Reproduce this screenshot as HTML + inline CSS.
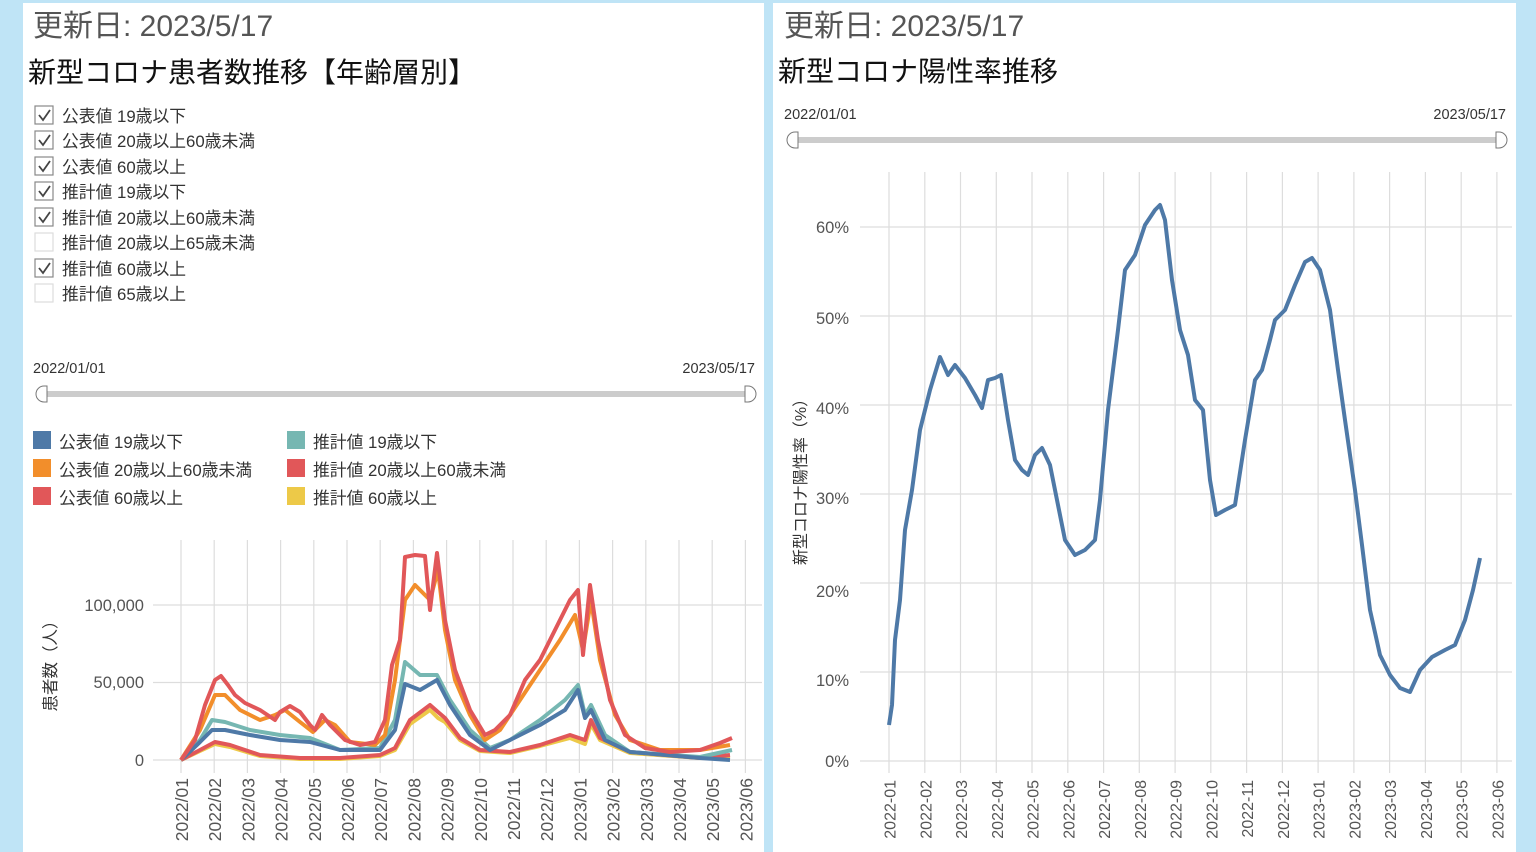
<!DOCTYPE html>
<html><head><meta charset="utf-8"><style>
html,body{margin:0;padding:0;width:1536px;height:852px;overflow:hidden;background:#bfe4f6;}
svg{display:block;font-family:"Liberation Sans","Noto Sans CJK JP",sans-serif;}
</style></head><body>
<svg width="1536" height="852" xmlns="http://www.w3.org/2000/svg">
<rect x="23" y="3" width="741" height="849" fill="#fff"/>
<rect x="773" y="3" width="743" height="849" fill="#fff"/>

<!-- LEFT -->
<text x="33" y="36" font-size="30" fill="#555">更新日: 2023/5/17</text>
<text x="28" y="82" font-size="28" fill="#111">新型コロナ患者数推移【年齢層別】</text>
<g font-size="16.8" fill="#333">
<g stroke="#888" stroke-width="1.2" fill="#fff">
<rect x="35" y="106" width="18" height="18"/><rect x="35" y="131" width="18" height="18"/><rect x="35" y="157" width="18" height="18"/><rect x="35" y="182" width="18" height="18"/><rect x="35" y="208" width="18" height="18"/><rect x="35" y="233" width="18" height="18" stroke="#ddd"/><rect x="35" y="259" width="18" height="18"/><rect x="35" y="284" width="18" height="18" stroke="#ddd"/>
</g>
<g stroke="#444" stroke-width="1.8" fill="none">
<path d="M39 115l4 5l7-10"/><path d="M39 140l4 5l7-10"/><path d="M39 166l4 5l7-10"/><path d="M39 191l4 5l7-10"/><path d="M39 217l4 5l7-10"/><path d="M39 268l4 5l7-10"/>
</g>
<text x="62" y="122">公表値 19歳以下</text>
<text x="62" y="147">公表値 20歳以上60歳未満</text>
<text x="62" y="173">公表値 60歳以上</text>
<text x="62" y="198">推計値 19歳以下</text>
<text x="62" y="224">推計値 20歳以上60歳未満</text>
<text x="62" y="249">推計値 20歳以上65歳未満</text>
<text x="62" y="275">推計値 60歳以上</text>
<text x="62" y="300">推計値 65歳以上</text>
</g>
<text x="33" y="373" font-size="14.5" fill="#333">2022/01/01</text>
<text x="755" y="373" font-size="14.5" fill="#333" text-anchor="end">2023/05/17</text>
<rect x="40" y="391" width="712" height="6" fill="#ccc"/>
<path d="M47 386h-3a8 8 0 0 0 0 16h3z" fill="#fff" stroke="#777"/>
<path d="M745 386h3a8 8 0 0 1 0 16h-3z" fill="#fff" stroke="#777"/>
<g font-size="16.8" fill="#333">
<rect x="33" y="431" width="18" height="18" fill="#4e79a7"/><text x="59" y="448">公表値 19歳以下</text>
<rect x="33" y="459" width="18" height="18" fill="#f28e2b"/><text x="59" y="476">公表値 20歳以上60歳未満</text>
<rect x="33" y="487" width="18" height="18" fill="#e15759"/><text x="59" y="504">公表値 60歳以上</text>
<rect x="287" y="431" width="18" height="18" fill="#76b7b2"/><text x="313" y="448">推計値 19歳以下</text>
<rect x="287" y="459" width="18" height="18" fill="#e15759"/><text x="313" y="476">推計値 20歳以上60歳未満</text>
<rect x="287" y="487" width="18" height="18" fill="#edc948"/><text x="313" y="504">推計値 60歳以上</text>
</g>
<g stroke="#ddd" stroke-width="1.2">
<path d="M153 760H762M153 682.5H762M153 605H762"/>
<path d="M181 540V773M214.2 540V773M247.4 540V773M280.6 540V773M313.8 540V773M347 540V773M380.2 540V773M413.4 540V773M446.6 540V773M479.8 540V773M513 540V773M546.2 540V773M579.4 540V773M612.6 540V773M645.8 540V773M679 540V773M712.2 540V773M745.4 540V773"/>
</g>
<g font-size="16.5" fill="#555" text-anchor="end">
<text x="144" y="766">0</text><text x="144" y="688">50,000</text><text x="144" y="611">100,000</text>
</g>
<text transform="translate(56 662) rotate(-90)" font-size="16.5" fill="#333" text-anchor="middle">患者数（人）</text>
<g font-size="17.5" fill="#555" text-anchor="end">
<text transform="translate(188 778) rotate(-90)">2022/01</text>
<text transform="translate(221.2 778) rotate(-90)">2022/02</text>
<text transform="translate(254.4 778) rotate(-90)">2022/03</text>
<text transform="translate(287.6 778) rotate(-90)">2022/04</text>
<text transform="translate(320.8 778) rotate(-90)">2022/05</text>
<text transform="translate(354 778) rotate(-90)">2022/06</text>
<text transform="translate(387.2 778) rotate(-90)">2022/07</text>
<text transform="translate(420.4 778) rotate(-90)">2022/08</text>
<text transform="translate(453.6 778) rotate(-90)">2022/09</text>
<text transform="translate(486.8 778) rotate(-90)">2022/10</text>
<text transform="translate(520 778) rotate(-90)">2022/11</text>
<text transform="translate(553.2 778) rotate(-90)">2022/12</text>
<text transform="translate(586.4 778) rotate(-90)">2023/01</text>
<text transform="translate(619.6 778) rotate(-90)">2023/02</text>
<text transform="translate(652.8 778) rotate(-90)">2023/03</text>
<text transform="translate(686 778) rotate(-90)">2023/04</text>
<text transform="translate(719.2 778) rotate(-90)">2023/05</text>
<text transform="translate(752.4 778) rotate(-90)">2023/06</text>
</g>
<g fill="none" stroke-width="4" stroke-linejoin="round">
<polyline stroke="#edc948" points="181,760 200,751 215,744 230,747 260,756 300,759 340,759 380,756 395,750 410,724 430,710 438,718 445,722 460,740 480,751 510,753 540,746 570,738 585,744 591,724 600,740 630,753 700,758 730,756"/>
<polyline stroke="#e15759" points="181,760 200,750 215,742 230,745 260,755 300,758 340,758 380,755 395,748 410,720 430,705 438,712 445,718 460,738 480,750 510,752 540,745 570,735 585,740 591,720 600,738 630,752 700,758 730,755"/>
<polyline stroke="#76b7b2" points="181,760 200,740 212,720 225,722 250,730 280,735 310,738 340,750 380,748 395,720 405,662 420,675 437,675 450,700 470,730 490,748 510,740 540,720 565,700 578,685 585,715 591,705 605,735 630,752 700,757 732,750"/>
<polyline stroke="#4e79a7" points="181,760 200,742 212,730 225,730 250,735 280,740 310,742 340,750 380,750 395,730 405,684 420,690 437,680 450,705 470,735 490,750 510,740 540,725 565,710 578,690 585,718 591,710 605,740 630,752 700,758 730,760"/>
<polyline stroke="#f28e2b" points="181,760 200,730 215,695 225,695 240,710 260,720 275,715 285,710 300,722 313,732 325,720 335,725 350,742 375,745 385,735 395,680 405,600 415,585 430,600 438,570 445,630 455,680 470,715 485,740 500,730 520,700 540,670 560,640 575,615 583,650 591,600 600,660 615,715 630,740 660,750 700,750 730,745"/>
<polyline stroke="#e15759" points="181,760 195,740 205,705 215,680 221,676 228,685 235,695 245,703 260,710 275,720 280,712 290,706 300,712 310,725 315,730 322,715 330,725 345,740 360,745 375,742 385,720 392,665 400,640 405,557 415,555 425,556 430,610 437,553 445,620 455,670 470,710 485,735 495,730 510,715 525,680 540,660 555,630 570,600 578,590 583,655 590,585 598,640 610,700 625,735 645,748 670,752 700,750 720,743 732,738"/>
</g>

<!-- RIGHT -->
<text x="784" y="36" font-size="30" fill="#555">更新日: 2023/5/17</text>
<text x="778" y="81" font-size="28" fill="#111">新型コロナ陽性率推移</text>
<text x="784" y="119" font-size="14.5" fill="#333">2022/01/01</text>
<text x="1506" y="119" font-size="14.5" fill="#333" text-anchor="end">2023/05/17</text>
<rect x="791" y="137" width="712" height="6" fill="#ccc"/>
<path d="M798 132h-3a8 8 0 0 0 0 16h3z" fill="#fff" stroke="#777"/>
<path d="M1496 132h3a8 8 0 0 1 0 16h-3z" fill="#fff" stroke="#777"/>
<g stroke="#ddd" stroke-width="1.2">
<path d="M860 761H1512M860 672H1512M860 583H1512M860 494H1512M860 405H1512M860 316H1512M860 227H1512"/>
<path d="M889 172V773M924.8 172V773M960.5 172V773M996.3 172V773M1032 172V773M1067.8 172V773M1103.6 172V773M1139.3 172V773M1175.1 172V773M1210.8 172V773M1246.6 172V773M1282.4 172V773M1318.1 172V773M1353.9 172V773M1389.6 172V773M1425.4 172V773M1461.2 172V773M1496.9 172V773"/>
</g>
<g font-size="16.5" fill="#555" text-anchor="end">
<text x="849" y="767">0%</text><text x="849" y="686">10%</text><text x="849" y="597">20%</text><text x="849" y="504">30%</text><text x="849" y="414">40%</text><text x="849" y="324">50%</text><text x="849" y="233">60%</text>
</g>
<text transform="translate(806 478) rotate(-90)" font-size="16" fill="#333" text-anchor="middle">新型コロナ陽性率（%）</text>
<g font-size="16" fill="#555" text-anchor="end">
<text transform="translate(895.5 780) rotate(-90)">2022-01</text>
<text transform="translate(931.3 780) rotate(-90)">2022-02</text>
<text transform="translate(967 780) rotate(-90)">2022-03</text>
<text transform="translate(1002.8 780) rotate(-90)">2022-04</text>
<text transform="translate(1038.5 780) rotate(-90)">2022-05</text>
<text transform="translate(1074.3 780) rotate(-90)">2022-06</text>
<text transform="translate(1110.1 780) rotate(-90)">2022-07</text>
<text transform="translate(1145.8 780) rotate(-90)">2022-08</text>
<text transform="translate(1181.6 780) rotate(-90)">2022-09</text>
<text transform="translate(1217.3 780) rotate(-90)">2022-10</text>
<text transform="translate(1253.1 780) rotate(-90)">2022-11</text>
<text transform="translate(1288.9 780) rotate(-90)">2022-12</text>
<text transform="translate(1324.6 780) rotate(-90)">2023-01</text>
<text transform="translate(1360.4 780) rotate(-90)">2023-02</text>
<text transform="translate(1396.1 780) rotate(-90)">2023-03</text>
<text transform="translate(1431.9 780) rotate(-90)">2023-04</text>
<text transform="translate(1467.7 780) rotate(-90)">2023-05</text>
<text transform="translate(1503.4 780) rotate(-90)">2023-06</text>
</g>
<polyline fill="none" stroke="#4e79a7" stroke-width="4" stroke-linejoin="round" points="889,725 892,705 895,640 900,600 905,530 912,490 920,430 930,390 940,357 948,375 955,365 965,378 975,395 982,408 988,380 995,378 1001,375 1008,420 1015,460 1022,470 1028,475 1035,455 1042,448 1050,465 1058,505 1065,540 1075,555 1085,550 1095,540 1100,500 1108,410 1118,330 1125,270 1135,255 1145,225 1155,210 1160,205 1165,220 1172,280 1180,330 1188,355 1195,400 1203,410 1210,480 1216,515 1225,510 1235,505 1245,440 1255,380 1262,370 1270,340 1275,320 1285,310 1295,285 1305,262 1312,258 1320,270 1330,310 1338,370 1345,420 1355,490 1362,545 1370,610 1380,655 1390,675 1400,688 1410,692 1420,670 1432,657 1445,650 1455,645 1465,620 1473,590 1480,558"/>
</svg>
</body></html>
